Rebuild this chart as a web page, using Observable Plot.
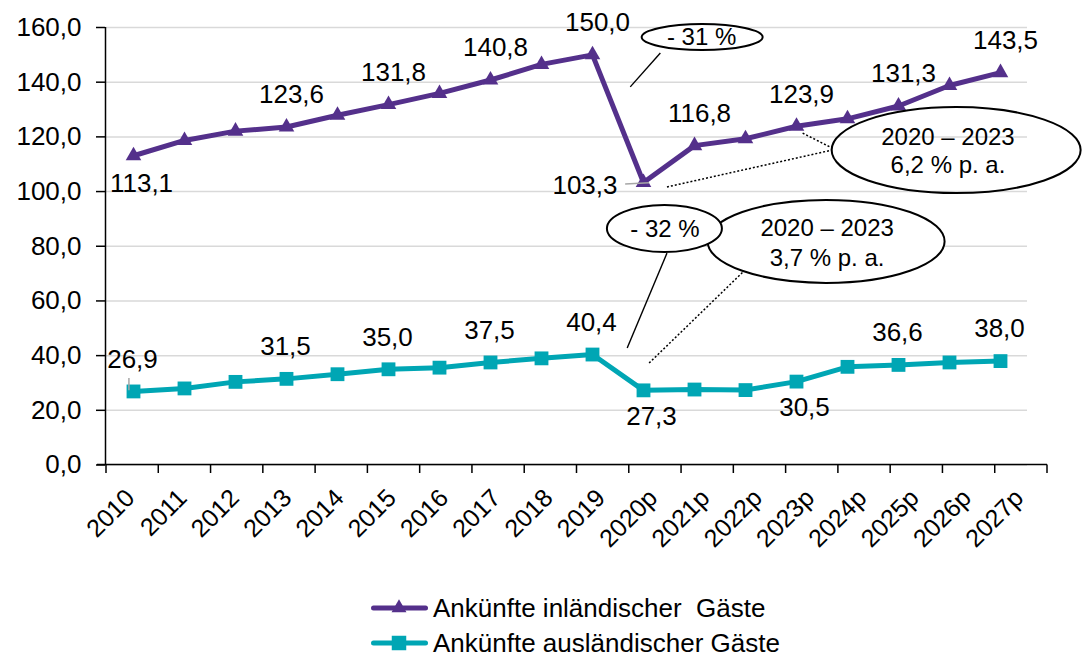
<!DOCTYPE html>
<html>
<head>
<meta charset="utf-8">
<script src="https://cdn.jsdelivr.net/npm/d3@7"></script>
<script src="https://cdn.jsdelivr.net/npm/@observablehq/plot@0.6"></script>
<style>
  body { margin: 0; background: #fff; font-family: "Liberation Sans", Arial, sans-serif; }
  #legend { position: relative; width: 1084px; height: 73px; overflow: hidden; }
  .row { position: absolute; left: 371px; height: 24px; display: flex; align-items: flex-start;
         font-size: 26px; line-height: 24px; white-space: pre; color: #000; }
  .row svg { display: block; margin-right: 5px; }
</style>
</head>
<body>
<div id="chart"></div>
<div id="legend"></div>
<script>
// ---------- data ----------
const categories = ["2010","2011","2012","2013","2014","2015","2016","2017","2018","2019",
                    "2020p","2021p","2022p","2023p","2024p","2025p","2026p","2027p"];
const domestic = [113.1,118.7,122.1,123.6,127.9,131.8,135.9,140.8,146.5,150.0,
                  103.3,116.8,119.3,123.9,126.6,131.3,138.8,143.5];
const foreign  = [26.9,28.0,30.4,31.5,33.2,35.0,35.6,37.5,39.0,40.4,
                  27.3,27.6,27.4,30.5,35.9,36.6,37.5,38.0];
const seriesNames = ["Ankünfte inländischer  Gäste", "Ankünfte ausländischer Gäste"];
const yTicks = [0,20,40,60,80,100,120,140,160];

// which points carry a value label, and on which side
const domesticLabelsAbove = ["2013","2015","2017","2019","2021p","2023p","2025p","2027p"];
const domesticLabelsBelow = ["2010"];
const domesticLabelsLeft  = ["2020p"];
const foreignLabelsAbove  = ["2010","2013","2015","2017","2019","2025p","2027p"];
const foreignLabelsBelow  = ["2020p","2023p"];

// callout texts
const calloutDomDrop   = "- 31 %";
const calloutDomCagr   = ["2020 – 2023", "6,2 % p. a."];
const calloutForDrop   = "- 32 %";
const calloutForCagr   = ["2020 – 2023", "3,7 % p. a."];

// ---------- styling ----------
const PURPLE = "#54308B";
const TEAL = "#00A6B4";
const FONT = "'Liberation Sans', Arial, sans-serif";
const fmt = v => v.toFixed(1).replace(".", ",");

const rows = categories.map((c, i) => ({cat: c, domestic: domestic[i], foreign: foreign[i]}));
const pick = list => rows.filter(d => list.includes(d.cat));

const W = 1084, H = 585;
const plot = Plot.plot({
  width: W, height: H,
  marginLeft: 105, marginRight: 57, marginTop: 27, marginBottom: 120.5,
  style: {fontFamily: FONT, fontSize: "26px", color: "#000", background: "#fff"},
  x: {type: "point", domain: categories, padding: 0.5, axis: null},
  y: {domain: [0, 160], axis: null},
  marks: [
    Plot.gridY(yTicks, {stroke: "#d9d9d9", strokeOpacity: 1, strokeWidth: 1.5}),
    Plot.axisY(yTicks, {tickSize: 9, tickPadding: 15, tickFormat: fmt, fontSize: 26,
                        label: null, strokeWidth: 1.5}),
    Plot.line(rows, {x: "cat", y: "domestic", stroke: PURPLE, strokeWidth: 5}),
    Plot.line(rows, {x: "cat", y: "foreign", stroke: TEAL, strokeWidth: 5}),
    Plot.dot(rows, {x: "cat", y: "domestic", symbol: "triangle", r: 5.8, fill: PURPLE}),
    Plot.dot(rows, {x: "cat", y: "foreign", symbol: "square", r: 7.8, fill: TEAL}),
    Plot.text(pick(domesticLabelsAbove), {x: "cat", y: "domestic", text: d => fmt(d.domestic), dy: -32, dx: 5, fontSize: 26}),
    Plot.text(pick(domesticLabelsBelow), {x: "cat", y: "domestic", text: d => fmt(d.domestic), dy: 28, dx: 8, fontSize: 26}),
    Plot.text(pick(domesticLabelsLeft),  {x: "cat", y: "domestic", text: d => fmt(d.domestic), dy: 3, dx: -26, textAnchor: "end", fontSize: 26}),
    Plot.text(pick(foreignLabelsAbove),  {x: "cat", y: "foreign", text: d => fmt(d.foreign), dy: -32, dx: -1, fontSize: 26}),
    Plot.text(pick(foreignLabelsBelow),  {x: "cat", y: "foreign", text: d => fmt(d.foreign), dy: 26, dx: 8, fontSize: 26})
  ]
});
document.getElementById("chart").appendChild(plot);

// ---------- axes lines, category axis and callouts via the plot's scales ----------
const svg = d3.select(plot);
const xs = plot.scale("x"), ys = plot.scale("y");
const x0 = xs.apply(categories[0]);
const step = xs.apply(categories[1]) - x0;
const xAt = t => x0 + t * step;          // fractional category index -> px
const yAt = v => ys.apply(v);
const yZero = yAt(0);

const g = svg.append("g").attr("font-family", FONT);

// y axis line
g.append("line").attr("x1", 105.5).attr("x2", 105.5).attr("y1", yAt(160)).attr("y2", yZero)
  .attr("stroke", "#000").attr("stroke-width", 1.5);

// category axis (Excel draws it slightly wider than the plotted series)
const xAxis = d3.scaleBand().domain(categories).range([106, 1047]);
g.append("line").attr("x1", 97).attr("x2", xAxis.range()[1]).attr("y1", yZero).attr("y2", yZero)
  .attr("stroke", "#000").attr("stroke-width", 1.5);
const bounds = categories.map(c => xAxis(c)).concat([xAxis.range()[1]]);
g.selectAll(null).data(bounds).join("line")
  .attr("x1", d => d).attr("x2", d => d).attr("y1", yZero).attr("y2", yZero + 8.5)
  .attr("stroke", "#000").attr("stroke-width", 1.5);
g.selectAll(null).data(categories).join("text")
  .attr("transform", c => `translate(${xAxis(c) + xAxis.bandwidth() / 2 + 4},${yZero + 35}) rotate(-45)`)
  .attr("text-anchor", "end").attr("font-size", 25).attr("fill", "#000").text(c => c);

// leader lines
const seg = (t1, v1, t2, v2, opts = {}) =>
  g.append("line").attr("x1", xAt(t1)).attr("y1", yAt(v1)).attr("x2", xAt(t2)).attr("y2", yAt(v2))
   .attr("stroke", opts.color || "#000").attr("stroke-width", opts.w || 1.4)
   .attr("stroke-dasharray", opts.dash || null);
seg(9.65, 102.6, 10.12, 103.0, {color: "#a6a6a6", w: 1.5});
seg(-0.08, 31.6, -0.08, 27.2, {color: "#a6a6a6", w: 1.5});
seg(9.75, 138.1, 10.34, 150.5);
seg(10.47, 101.5, 13.71, 115.0, {dash: "2,2", w: 1.5});
seg(13.13, 121.2, 13.71, 115.7, {dash: "2,2", w: 1.5});
seg(9.69, 42.6, 10.47, 77.3);
seg(10.12, 37.1, 11.96, 70.4, {dash: "2,2", w: 1.5});

// callout ellipses
const callout = (t, v, rx, ry, fill, lines, tt, vs) => {
  g.append("ellipse").attr("cx", xAt(t)).attr("cy", yAt(v)).attr("rx", rx).attr("ry", ry)
   .attr("fill", fill).attr("stroke", "#000").attr("stroke-width", 2);
  lines.forEach((s, i) => g.append("text").attr("x", xAt(tt)).attr("y", yAt(vs[i]))
    .attr("dy", "0.35em").attr("text-anchor", "middle").attr("font-size", 24).attr("fill", "#000").text(s));
};
callout(11.16, 156.3, 60.5, 13, "#fff", [calloutDomDrop], 11.15, [156.6]);
callout(16.14, 115.0, 124.5, 43, "none", calloutDomCagr, 15.98, [119.8, 109.5]);
callout(13.59, 81.6, 118.5, 41.5, "#fff", calloutForCagr, 13.61, [86.5, 75.5]);
callout(10.42, 86.3, 57.5, 23.5, "#fff", [calloutForDrop], 10.43, [86.1]);

// ---------- legend ----------
const legend = d3.select("#legend");
[[seriesNames[0], PURPLE, d3.symbolTriangle, 97], [seriesNames[1], TEAL, d3.symbolSquare, 210]]
  .forEach(([name, color, sym, size], i) => {
    const row = legend.append("div").attr("class", "row").style("top", (11 + i * 35) + "px");
    const s = row.append("svg").attr("width", 57).attr("height", 24);
    s.append("line").attr("x1", 2.5).attr("x2", 54.5).attr("y1", 12).attr("y2", 12)
      .attr("stroke", color).attr("stroke-width", 5).attr("stroke-linecap", "round");
    s.append("path").attr("d", d3.symbol(sym, size)()).attr("transform", "translate(28,12)").attr("fill", color);
    row.append("span").text(name);
  });
</script>
</body>
</html>
